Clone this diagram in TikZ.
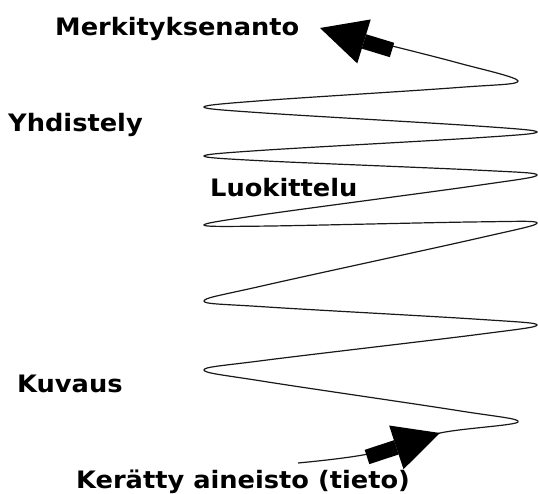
\documentclass[tikz,border=0pt]{standalone}
\usepackage{fontspec}
\newfontfamily\stagefont{DejaVu Sans}[FakeStretch=1.07]
\usetikzlibrary{arrows.meta}

\begin{document}
\begin{tikzpicture}[x=1pt, y=-1pt,
  stage/.style={
    % The text:
    font=\stagefont\bfseries\fontsize{24}{24}\selectfont,
    % The placement:
    anchor=base west, inner sep=0pt},
  spiral/.style={
    % The line:
    line width=1.2pt, black!90},
  bigarrow/.style={
    % The shaft:
    line width=15pt, black,
    % The head:
    -{Triangle[length=46pt, width=46pt, line width=0pt]}},
  text=black]

  \useasboundingbox (0,0) rectangle (538,494);

  \node (merkitys) [stage] at (55,36) {Merkityksenanto};
  \node (yhdistely) [stage] at (8,132) {Yhdistely};
  \node (luokittelu) [stage] at (210,197) {Luokittelu};
  \node (kuvaus) [stage] at (17,392) {Kuvaus};
  \node (tieto) [stage] at (76,488) {Kerätty aineisto (tieto)};

  % ends of the spiral
  \coordinate (start) at (298,463);
  \coordinate (finish) at (388,45);

  % each turn: a point before it, the tip, a point after it
  \draw[spiral] plot[smooth, tension=0.55] coordinates {
    (start) (368,454) (440,433)
    (518,422) (458,410.6)
    (264,381.4) (204,370) (264,360.4)
    (477,334.6) (537,325) (477,319.2)
    (264,306.8) (204,301) (264,285.5)
    (477,238.5) (537,223) (477,221.9)
    (264,226.1) (204,225) (264,214.5)
    (477,185.5) (537,175) (477,170.1)
    (264,160.9) (204,156) (264,150.2)
    (477,137.8) (537,132) (477,126)
    (264,113) (204,107) (264,100.5)
    (458,87.5) (518,81) (458,62.9)
    (finish)};

  % the two big arrows
  \coordinate (lowtail) at (367,457);
  \coordinate (lowhead) at (440,433);
  \coordinate (toptail) at (392,50);
  \coordinate (tophead) at (320,28);
  \draw[bigarrow] (lowtail) -- (lowhead);
  \draw[bigarrow] (toptail) -- (tophead);
\end{tikzpicture}
\end{document}
